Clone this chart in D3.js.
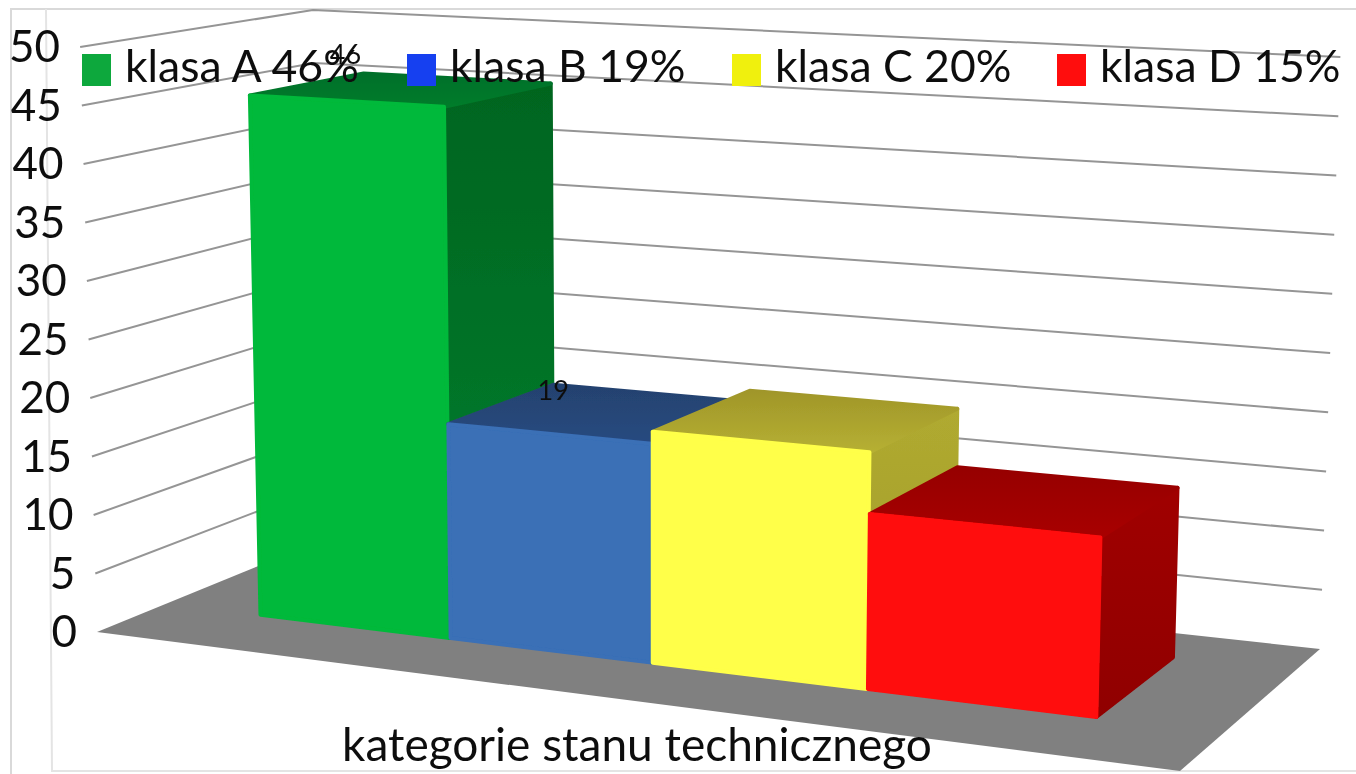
<!DOCTYPE html>
<html>
<head>
<meta charset="utf-8">
<script src="https://cdn.jsdelivr.net/npm/d3@7"></script>
<style>
  body { margin: 0; background: #fff; }
  text { font-family: Lato, "Open Sans", sans-serif; fill: #111; }
</style>
</head>
<body>
<div id="chart"></div>
<script>
// Data
var categories = ["klasa A", "klasa B", "klasa C", "klasa D"];
var values = [46, 19, 20, 15];
var percents = ["46%", "19%", "20%", "15%"];
var valueLabels = ["46", "19", "", ""];
var yTicks = [0, 5, 10, 15, 20, 25, 30, 35, 40, 45, 50];
var axisTitle = "kategorie stanu technicznego";

var frontColors = ["#00b93a", "#3a6fb6", "#ffff48", "#ff0c0c"];
var topBackColors = ["#06702a", "#24426f", "#a0962a", "#960000"];
var topFrontColors = ["#067c2a", "#274a80", "#b6b032", "#a80202"];
var sideTopColors = ["#05651f", "#26467a", "#b0aa30", "#a00000"];
var sideBottomColors = ["#058030", "#26467a", "#a09a2a", "#900000"];
var legendColors = ["#0aa83c", "#1440f0", "#f0f010", "#ff1010"];

var w = 1356;
var h = 774;

// Floor of the chart box on screen: front-left, front-right, back-right, back-left
var floorQuad = [[97, 632], [1180, 771], [1320, 649], [322, 540]];
// Uprights all run towards this point far below the picture
var vanish = [655, 20000];

// Maps the unit square on to a screen quad (perspective)
function quadMap(q) {
    var x0 = q[0][0], y0 = q[0][1], x1 = q[1][0], y1 = q[1][1];
    var x2 = q[2][0], y2 = q[2][1], x3 = q[3][0], y3 = q[3][1];
    var dx1 = x1 - x2, dx2 = x3 - x2, sx = x0 - x1 + x2 - x3;
    var dy1 = y1 - y2, dy2 = y3 - y2, sy = y0 - y1 + y2 - y3;
    var det = dx1 * dy2 - dx2 * dy1;
    var g = (sx * dy2 - dx2 * sy) / det;
    var k = (dx1 * sy - sx * dy1) / det;
    var a = x1 - x0 + g * x1, b = x3 - x0 + k * x3;
    var d = y1 - y0 + g * y1, e = y3 - y0 + k * y3;
    return function(u, v) {
        var z = g * u + k * v + 1;
        return [(a * u + b * v + x0) / z, (d * u + e * v + y0) / z];
    };
}
var floorMap = quadMap(floorQuad);

// Scales
var heightScale = d3.scaleLinear().domain([0, 50]).range([0, 1]);
var xScale = d3.scaleBand().domain(categories).range([0.102, 0.895]).paddingInner(0.005);
var depthFront = 0.29;
var depthBack = 0.80;
var bevel = 0.8; // bars sit a little under their value because of the rounded edge

// Rise of the 50 level as a share of the distance to the vanishing point,
// fitted from the three wall corners, so it changes across the floor
function rise(p) {
    return 0.01005 - 1.242e-7 * p[0] + 3.19e-5 * p[1];
}

function project(u, v, value) {
    var p = floorMap(u, v);
    var s = rise(p) * heightScale(value);
    return [p[0] + (p[0] - vanish[0]) * s, p[1] + (p[1] - vanish[1]) * s];
}

var svg = d3.select("#chart")
    .append("svg")
    .attr("width", w)
    .attr("height", h)
    .style("display", "block");

var defs = svg.append("defs");
defs.append("filter").attr("id", "soft")
    .append("feGaussianBlur").attr("stdDeviation", 0.7);

function shade(id, topList, bottomList) {
    categories.forEach(function(d, i) {
        var g = defs.append("linearGradient")
            .attr("id", id + i)
            .attr("x1", 0).attr("y1", 0).attr("x2", 0).attr("y2", 1);
        g.append("stop").attr("offset", 0).attr("stop-color", topList[i]);
        g.append("stop").attr("offset", 1).attr("stop-color", bottomList[i]);
    });
}
shade("topFace", topBackColors, topFrontColors);
shade("sideFace", sideTopColors, sideBottomColors);

// Frame of the pasted picture
var frame = svg.append("g").attr("stroke", "#d9d9d9").attr("stroke-width", 2).attr("fill", "none");
frame.append("path").attr("d", "M11,774V9H1356");
frame.append("path").attr("d", "M46,9L52,771H1356").attr("stroke", "#e4e4e4");

var chart = svg.append("g").attr("filter", "url(#soft)");

// Gridlines on the left and back walls
var grid = chart.append("g").attr("fill", "none").attr("stroke", "#959595").attr("stroke-width", 2);
grid.selectAll("path")
    .data(yTicks.filter(function(d) { return d > 0; }))
    .enter().append("path")
    .attr("d", function(d) {
        return d3.line()([project(0, 0, d), project(0, 1, d), project(1, 1, d)]);
    });

// Floor
chart.append("path")
    .attr("d", d3.line()(floorQuad) + "Z")
    .attr("fill", "#808080");

// Bars, left to right so each one covers the side of the previous
var bars = chart.selectAll("g.bar")
    .data(categories)
    .enter().append("g")
    .attr("class", "bar")
    .attr("stroke-width", 4)
    .attr("stroke-linejoin", "round");

function face(sel, paint, corners) {
    sel.append("path")
        .attr("fill", paint)
        .attr("stroke", paint)
        .attr("d", function(d, i) {
            var u0 = xScale(d), u1 = u0 + xScale.bandwidth();
            return d3.line()(corners(u0, u1, values[i] - bevel)) + "Z";
        });
}

face(bars, function(d, i) { return "url(#sideFace" + i + ")"; }, function(u0, u1, val) {
    return [project(u1, depthFront, val), project(u1, depthBack, val),
            project(u1, depthBack, 0), project(u1, depthFront, 0)];
});
face(bars, function(d, i) { return "url(#topFace" + i + ")"; }, function(u0, u1, val) {
    return [project(u0, depthFront, val), project(u1, depthFront, val),
            project(u1, depthBack, val), project(u0, depthBack, val)];
});
face(bars, function(d, i) { return frontColors[i]; }, function(u0, u1, val) {
    return [project(u0, depthFront, val), project(u1, depthFront, val),
            project(u1, depthFront, 0), project(u0, depthFront, 0)];
});

var labels = svg.append("g").attr("filter", "url(#soft)");

// Value axis labels follow the front edge of the left wall
labels.selectAll("text.tick")
    .data(yTicks)
    .enter().append("text")
    .attr("class", "tick")
    .attr("x", function(d) { return project(0, 0, d)[0] - 20; })
    .attr("y", function(d) { return project(0, 0, d)[1] + 15; })
    .attr("text-anchor", "end")
    .style("font-size", "44px")
    .text(function(d) { return d; });

// Legend
var legendX = d3.scaleBand().domain(categories).range([82, 1382]);
var legend = labels.selectAll("g.legend")
    .data(categories)
    .enter().append("g")
    .attr("class", "legend")
    .attr("transform", function(d) { return "translate(" + legendX(d) + ",54)"; });

legend.append("rect")
    .attr("width", 29)
    .attr("height", 32)
    .attr("fill", function(d, i) { return legendColors[i]; });

legend.append("text")
    .attr("x", 43)
    .attr("y", 28)
    .style("font-size", "44.5px")
    .text(function(d, i) { return d + " " + percents[i]; });

// Small value labels near the back corner of the bars, the tall one sits above it
labels.selectAll("text.value")
    .data(categories)
    .enter().append("text")
    .attr("class", "value")
    .attr("x", function(d, i) {
        return project(xScale(d), depthBack, values[i])[0] + (values[i] > 30 ? -18 : 0);
    })
    .attr("y", function(d, i) {
        return project(xScale(d), depthBack, values[i])[1] + (values[i] > 30 ? -1 : 24);
    })
    .attr("text-anchor", "middle")
    .style("font-size", "27px")
    .text(function(d, i) { return valueLabels[i]; });

// Category axis title
labels.append("text")
    .attr("x", 637)
    .attr("y", 761)
    .attr("text-anchor", "middle")
    .style("font-size", "46px")
    .text(axisTitle);
</script>
</body>
</html>
